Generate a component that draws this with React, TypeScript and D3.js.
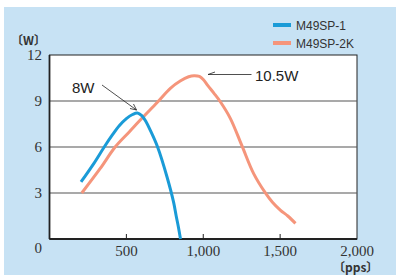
import { useRef, useEffect } from 'react';
import * as d3 from 'd3';

const seriesNames = ['M49SP-1', 'M49SP-2K'];
const seriesColors = ['#1a9bd7', '#f5957b'];

// speed [pps], power [W]
const blueSpeed = [205, 290, 356, 410, 455, 500, 540, 572, 600, 628, 655, 703, 764, 807, 824, 838, 852];
const bluePower = [3.72, 4.95, 6.0, 6.8, 7.4, 7.85, 8.12, 8.22, 8.05, 7.65, 7.1, 6.0, 4.06, 2.4, 1.5, 0.8, 0];

const orangeSpeed = [210, 330, 427, 520, 601, 700, 786, 850, 905, 940, 975, 1000, 1030, 1070, 1111, 1176, 1252, 1327, 1403, 1450, 1501, 1550, 1600];
const orangePower = [3.0, 4.6, 6.0, 7.0, 7.87, 8.9, 9.83, 10.3, 10.58, 10.65, 10.6, 10.4, 10.0, 9.5, 8.95, 7.87, 6.07, 4.28, 3.02, 2.4, 1.89, 1.5, 1.02];

const xTicks = [500, 1000, 1500, 2000];
const yTicks = [3, 6, 9, 12];

function App() {
  const ref = useRef(null);

  useEffect(() => {
    d3.select(ref.current).selectAll('*').remove();

    const svg = d3.select(ref.current)
      .attr('width', 396)
      .attr('height', 275);

    svg.append('rect')
      .attr('x', 4).attr('y', 7)
      .attr('width', 392).attr('height', 268)
      .attr('fill', '#c7e2f4');

    const x = d3.scaleLinear().domain([0, 2000]).range([49.5, 357]);
    const y = d3.scaleLinear().domain([0, 12]).range([239, 55]);

    svg.append('rect')
      .attr('x', x(0)).attr('y', y(12))
      .attr('width', x(2000) - x(0)).attr('height', y(0) - y(12))
      .attr('fill', '#fff')
      .attr('stroke', '#222')
      .attr('stroke-width', 1);

    // gridlines
    svg.selectAll('.grid')
      .data([3, 6, 9])
      .enter()
      .append('line')
      .attr('x1', x(0)).attr('x2', x(2000))
      .attr('y1', d => y(d)).attr('y2', d => y(d))
      .attr('stroke', '#555')
      .attr('stroke-width', 1.2);

    // axes
    svg.append('line')
      .attr('x1', x(0)).attr('x2', x(2000))
      .attr('y1', y(0)).attr('y2', y(0))
      .attr('stroke', '#222').attr('stroke-width', 1.8);
    svg.append('line')
      .attr('x1', x(0)).attr('x2', x(0))
      .attr('y1', y(0)).attr('y2', y(12))
      .attr('stroke', '#222').attr('stroke-width', 1.8);

    svg.selectAll('.xtick')
      .data([500, 1000, 1500])
      .enter()
      .append('line')
      .attr('x1', d => x(d)).attr('x2', d => x(d))
      .attr('y1', y(0)).attr('y2', y(0) - 5)
      .attr('stroke', '#222').attr('stroke-width', 1);

    const fmt = d3.format(',');
    svg.selectAll('.xlabel')
      .data(xTicks)
      .enter()
      .append('text')
      .attr('x', d => x(d))
      .attr('y', 256)
      .attr('text-anchor', 'middle')
      .style('font-family', '"Liberation Serif", "DejaVu Serif", serif')
      .style('font-size', '15px')
      .style('fill', '#333')
      .text(d => fmt(d));

    svg.selectAll('.ylabel')
      .data(yTicks)
      .enter()
      .append('text')
      .attr('x', 42)
      .attr('y', d => y(d) + 5)
      .attr('text-anchor', 'end')
      .style('font-family', '"Liberation Serif", "DejaVu Serif", serif')
      .style('font-size', '15px')
      .style('fill', '#333')
      .text(d => d);

    svg.append('text')
      .attr('x', 42).attr('y', 253)
      .attr('text-anchor', 'end')
      .style('font-family', '"Liberation Serif", "DejaVu Serif", serif')
      .style('font-size', '15px')
      .style('fill', '#333')
      .text('0');

    const unitFont = '"Noto Sans CJK JP", "Noto Sans", sans-serif';
    svg.append('text')
      .attr('x', 11).attr('y', 45)
      .style('font-family', unitFont)
      .style('font-size', '12px')
      .style('font-weight', 'bold')
      .style('fill', '#333')
      .text('〔W〕');

    svg.append('text')
      .attr('x', 333).attr('y', 272)
      .style('font-family', unitFont)
      .style('font-size', '12px')
      .style('font-weight', 'bold')
      .style('fill', '#333')
      .text('〔pps〕');

    const line = d3.line()
      .x(d => x(d[0]))
      .y(d => y(d[1]))
      .curve(d3.curveCatmullRom.alpha(0.5));

    const blue = blueSpeed.map((s, i) => [s, bluePower[i]]);
    const orange = orangeSpeed.map((s, i) => [s, orangePower[i]]);

    svg.append('path')
      .datum(orange)
      .attr('d', line)
      .attr('fill', 'none')
      .attr('stroke', seriesColors[1])
      .attr('stroke-width', 3);

    svg.append('path')
      .datum(blue)
      .attr('d', line)
      .attr('fill', 'none')
      .attr('stroke', seriesColors[0])
      .attr('stroke-width', 3);

    // legend
    const legend = svg.append('g');
    seriesNames.forEach((name, i) => {
      const ly = 25 + i * 18;
      legend.append('line')
        .attr('x1', 273).attr('x2', 291)
        .attr('y1', ly).attr('y2', ly)
        .attr('stroke', seriesColors[i])
        .attr('stroke-width', 4);
      legend.append('text')
        .attr('x', 296).attr('y', ly + 4.5)
        .style('font-family', '"Liberation Sans", Arial, sans-serif')
        .style('font-size', '12px')
        .style('fill', '#333')
        .text(name);
    });

    // annotations
    const ann = svg.append('g')
      .style('font-family', '"Liberation Sans", Arial, sans-serif')
      .style('font-size', '15px')
      .style('fill', '#222');

    ann.append('text').attr('x', 72).attr('y', 93).text('8W');
    ann.append('line')
      .attr('x1', 102).attr('y1', 85)
      .attr('x2', 136.5).attr('y2', 110)
      .attr('stroke', '#222').attr('stroke-width', 0.8);
    ann.append('path')
      .attr('d', 'M130,108.5 L136.5,110 L133.5,104')
      .attr('fill', 'none')
      .attr('stroke', '#222').attr('stroke-width', 0.8);

    ann.append('text').attr('x', 255).attr('y', 80.5).text('10.5W');
    ann.append('line')
      .attr('x1', 208).attr('y1', 74.5)
      .attr('x2', 251.5).attr('y2', 74.5)
      .attr('stroke', '#222').attr('stroke-width', 0.8);
    ann.append('path')
      .attr('d', 'M215,72 L208,74.5')
      .attr('fill', 'none')
      .attr('stroke', '#222').attr('stroke-width', 0.8);
  }, []);

  return (
    <svg ref={ref} style={{ position: 'absolute', left: 0, top: 0, display: 'block' }} />
  );
}

export default App;
